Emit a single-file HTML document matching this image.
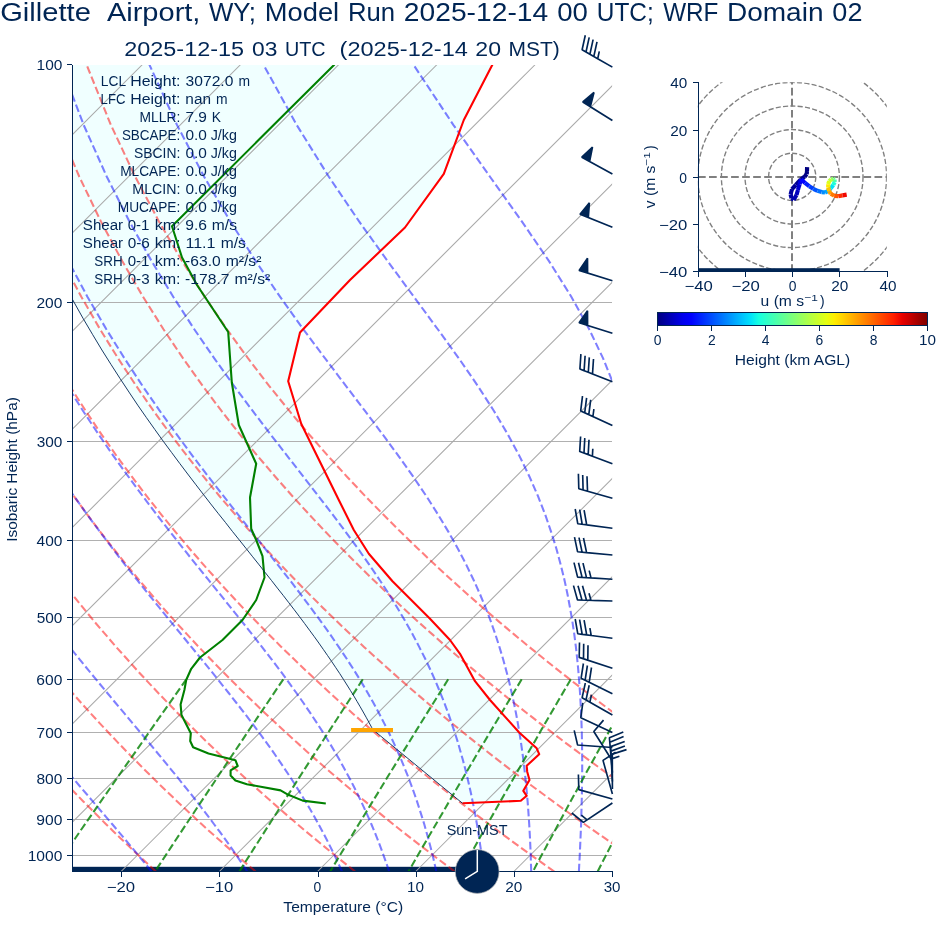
<!DOCTYPE html>
<html><head><meta charset="utf-8"><title>Skew-T</title><style>html,body{margin:0;padding:0;background:#fff}body{width:936px;height:936px;overflow:hidden}</style></head><body>
<svg width="936" height="936" viewBox="0 0 936 936" style="display:block;font-family:'Liberation Sans',sans-serif;will-change:transform">
<rect width="936" height="936" fill="#fff"/>
<defs><clipPath id="ax"><rect x="72.0" y="64.0" width="540.1" height="807.5"/></clipPath><clipPath id="hd"><rect x="697.8" y="82.3" width="189" height="189.2"/></clipPath></defs>
<g clip-path="url(#ax)">
<polygon points="462.5,803.3 372.9,729.7 371.6,727.3 368.9,722.3 366.1,717.2 363.2,712.0 360.2,706.8 357.1,701.5 353.9,696.1 350.5,690.6 347.0,685.0 343.4,679.3 339.7,673.5 335.8,667.7 331.8,661.7 327.6,655.6 323.3,649.4 318.9,643.1 314.3,636.7 309.5,630.2 304.6,623.5 299.5,616.7 294.2,609.7 288.8,602.7 283.2,595.4 277.4,588.1 271.5,580.5 265.4,572.8 259.2,564.9 252.7,556.8 246.1,548.5 239.4,540.1 232.4,531.4 225.4,522.4 218.1,513.3 210.7,503.9 203.2,494.2 195.5,484.2 187.7,474.0 179.7,463.4 171.6,452.5 163.3,441.3 154.9,429.6 146.4,417.6 137.7,405.1 129.0,392.1 120.1,378.6 111.1,364.6 101.9,350.0 92.7,334.7 83.3,318.8 73.9,302.0 64.3,284.4 54.6,265.8 44.9,246.2 35.1,225.4 25.2,203.2 15.3,179.5 5.4,154.1 -4.5,126.6 -14.3,96.7 -23.9,64.0 -228.0,59.0 497.5,59.0 492.5,64.5 463.8,120.0 443.8,173.8 405.0,227.5 350.0,280.0 300.0,332.5 288.2,381.2 301.2,423.8 338.8,500.0 353.8,530.0 368.8,553.8 392.5,581.2 430.0,618.8 450.0,640.0 460.0,653.8 467.5,667.5 475.0,681.2 490.0,700.0 519.2,732.5 536.7,748.3 539.2,754.2 526.7,765.8 527.2,771.7 529.5,780.0 523.3,790.8 526.7,795.8 520.8,800.8 462.5,803.3" fill="#f0ffff"/>
<rect x="72.0" y="866.8" width="405.0" height="6" fill="#002554"/>
<line x1="72.0" x2="612.1" y1="64.50" y2="64.50" stroke="#b0b0b0" stroke-width="1"/>
<line x1="72.0" x2="612.1" y1="302.50" y2="302.50" stroke="#b0b0b0" stroke-width="1"/>
<line x1="72.0" x2="612.1" y1="441.50" y2="441.50" stroke="#b0b0b0" stroke-width="1"/>
<line x1="72.0" x2="612.1" y1="540.50" y2="540.50" stroke="#b0b0b0" stroke-width="1"/>
<line x1="72.0" x2="612.1" y1="617.50" y2="617.50" stroke="#b0b0b0" stroke-width="1"/>
<line x1="72.0" x2="612.1" y1="679.50" y2="679.50" stroke="#b0b0b0" stroke-width="1"/>
<line x1="72.0" x2="612.1" y1="732.50" y2="732.50" stroke="#b0b0b0" stroke-width="1"/>
<line x1="72.0" x2="612.1" y1="778.50" y2="778.50" stroke="#b0b0b0" stroke-width="1"/>
<line x1="72.0" x2="612.1" y1="819.50" y2="819.50" stroke="#b0b0b0" stroke-width="1"/>
<line x1="72.0" x2="612.1" y1="855.50" y2="855.50" stroke="#b0b0b0" stroke-width="1"/>
<line x1="-860.9" y1="871.5" x2="-53.4" y2="64.0" stroke="#a8a8a8" stroke-width="1.05"/>
<line x1="-762.7" y1="871.5" x2="44.8" y2="64.0" stroke="#a8a8a8" stroke-width="1.05"/>
<line x1="-664.5" y1="871.5" x2="143.0" y2="64.0" stroke="#a8a8a8" stroke-width="1.05"/>
<line x1="-566.3" y1="871.5" x2="241.2" y2="64.0" stroke="#a8a8a8" stroke-width="1.05"/>
<line x1="-468.1" y1="871.5" x2="339.4" y2="64.0" stroke="#a8a8a8" stroke-width="1.05"/>
<line x1="-369.9" y1="871.5" x2="437.6" y2="64.0" stroke="#a8a8a8" stroke-width="1.05"/>
<line x1="-271.7" y1="871.5" x2="535.8" y2="64.0" stroke="#a8a8a8" stroke-width="1.05"/>
<line x1="-173.5" y1="871.5" x2="634.0" y2="64.0" stroke="#a8a8a8" stroke-width="1.05"/>
<line x1="-75.3" y1="871.5" x2="732.2" y2="64.0" stroke="#a8a8a8" stroke-width="1.05"/>
<line x1="22.9" y1="871.5" x2="830.4" y2="64.0" stroke="#a8a8a8" stroke-width="1.05"/>
<line x1="121.1" y1="871.5" x2="928.6" y2="64.0" stroke="#a8a8a8" stroke-width="1.05"/>
<line x1="219.3" y1="871.5" x2="1026.8" y2="64.0" stroke="#a8a8a8" stroke-width="1.05"/>
<line x1="317.5" y1="871.5" x2="1125.0" y2="64.0" stroke="#a8a8a8" stroke-width="1.05"/>
<line x1="415.7" y1="871.5" x2="1223.2" y2="64.0" stroke="#a8a8a8" stroke-width="1.05"/>
<line x1="513.9" y1="871.5" x2="1321.4" y2="64.0" stroke="#a8a8a8" stroke-width="1.05"/>
<line x1="612.1" y1="871.5" x2="1419.6" y2="64.0" stroke="#a8a8a8" stroke-width="1.05"/>
<line x1="710.3" y1="871.5" x2="1517.8" y2="64.0" stroke="#a8a8a8" stroke-width="1.05"/>
<polyline points="-43.2,871.5 -49.1,865.1 -55.1,858.6 -61.1,851.9 -67.2,845.1 -73.3,838.2 -79.4,831.2 -85.6,824.0 -91.9,816.6 -98.2,809.1 -104.6,801.4 -111.0,793.5 -117.5,785.5 -124.0,777.2 -130.6,768.8 -137.2,760.1 -143.9,751.2 -150.7,742.1 -157.5,732.7 -164.4,723.1 -171.3,713.2 -178.3,703.0 -185.4,692.5 -192.5,681.6 -199.7,670.4 -207.0,658.8 -214.3,646.9 -221.7,634.4 -229.1,621.6 -236.6,608.2 -244.2,594.2 -251.8,579.7 -259.4,564.6 -267.2,548.7 -274.9,532.1 -282.7,514.6 -290.5,496.2 -298.3,476.7 -306.2,456.1 -313.9,434.2 -321.7,410.7 -329.3,385.6 -336.7,358.4 -344.0,329.0 -350.9,296.7 -357.3,261.1 -363.0,221.4 -367.6,176.5 -370.7,124.8 -371.5,64.0" fill="none" stroke="#ff0000" stroke-opacity="0.5" stroke-width="2.08" stroke-dasharray="7.7 3.33"/>
<polyline points="56.4,871.5 50.0,865.1 43.4,858.6 36.9,851.9 30.3,845.1 23.6,838.2 16.9,831.2 10.1,824.0 3.2,816.6 -3.7,809.1 -10.7,801.4 -17.7,793.5 -24.8,785.5 -32.0,777.2 -39.2,768.8 -46.5,760.1 -53.8,751.2 -61.3,742.1 -68.8,732.7 -76.4,723.1 -84.0,713.2 -91.8,703.0 -99.6,692.5 -107.5,681.6 -115.5,670.4 -123.5,658.8 -131.7,646.9 -139.9,634.4 -148.2,621.6 -156.6,608.2 -165.1,594.2 -173.7,579.7 -182.3,564.6 -191.0,548.7 -199.8,532.1 -208.7,514.6 -217.6,496.2 -226.6,476.7 -235.7,456.1 -244.7,434.2 -253.8,410.7 -262.8,385.6 -271.8,358.4 -280.6,329.0 -289.1,296.7 -297.3,261.1 -305.0,221.4 -311.8,176.5 -317.2,124.8 -320.6,64.0" fill="none" stroke="#ff0000" stroke-opacity="0.5" stroke-width="2.08" stroke-dasharray="7.7 3.33"/>
<polyline points="156.0,871.5 149.0,865.1 142.0,858.6 134.9,851.9 127.7,845.1 120.5,838.2 113.2,831.2 105.8,824.0 98.4,816.6 90.9,809.1 83.3,801.4 75.6,793.5 67.9,785.5 60.1,777.2 52.2,768.8 44.3,760.1 36.3,751.2 28.1,742.1 19.9,732.7 11.6,723.1 3.2,713.2 -5.2,703.0 -13.8,692.5 -22.5,681.6 -31.2,670.4 -40.1,658.8 -49.1,646.9 -58.1,634.4 -67.3,621.6 -76.6,608.2 -86.0,594.2 -95.5,579.7 -105.2,564.6 -114.9,548.7 -124.7,532.1 -134.7,514.6 -144.8,496.2 -154.9,476.7 -165.2,456.1 -175.5,434.2 -185.9,410.7 -196.3,385.6 -206.8,358.4 -217.2,329.0 -227.4,296.7 -237.4,261.1 -247.0,221.4 -255.9,176.5 -263.7,124.8 -269.8,64.0" fill="none" stroke="#ff0000" stroke-opacity="0.5" stroke-width="2.08" stroke-dasharray="7.7 3.33"/>
<polyline points="255.6,871.5 248.1,865.1 240.5,858.6 232.8,851.9 225.1,845.1 217.3,838.2 209.4,831.2 201.5,824.0 193.5,816.6 185.4,809.1 177.2,801.4 169.0,793.5 160.6,785.5 152.2,777.2 143.7,768.8 135.1,760.1 126.3,751.2 117.5,742.1 108.6,732.7 99.6,723.1 90.5,713.2 81.3,703.0 72.0,692.5 62.6,681.6 53.0,670.4 43.3,658.8 33.5,646.9 23.6,634.4 13.6,621.6 3.4,608.2 -7.0,594.2 -17.4,579.7 -28.0,564.6 -38.8,548.7 -49.7,532.1 -60.7,514.6 -71.9,496.2 -83.2,476.7 -94.7,456.1 -106.3,434.2 -118.0,410.7 -129.9,385.6 -141.8,358.4 -153.7,329.0 -165.7,296.7 -177.5,261.1 -189.0,221.4 -200.1,176.5 -210.2,124.8 -218.9,64.0" fill="none" stroke="#ff0000" stroke-opacity="0.5" stroke-width="2.08" stroke-dasharray="7.7 3.33"/>
<polyline points="355.2,871.5 347.1,865.1 339.0,858.6 330.8,851.9 322.5,845.1 314.2,838.2 305.7,831.2 297.2,824.0 288.6,816.6 279.9,809.1 271.2,801.4 262.3,793.5 253.3,785.5 244.3,777.2 235.1,768.8 225.8,760.1 216.4,751.2 207.0,742.1 197.4,732.7 187.7,723.1 177.8,713.2 167.9,703.0 157.8,692.5 147.6,681.6 137.2,670.4 126.8,658.8 116.1,646.9 105.4,634.4 94.4,621.6 83.4,608.2 72.1,594.2 60.7,579.7 49.1,564.6 37.4,548.7 25.4,532.1 13.3,514.6 1.0,496.2 -11.5,476.7 -24.2,456.1 -37.1,434.2 -50.2,410.7 -63.4,385.6 -76.8,358.4 -90.3,329.0 -103.9,296.7 -117.5,261.1 -131.0,221.4 -144.2,176.5 -156.7,124.8 -168.0,64.0" fill="none" stroke="#ff0000" stroke-opacity="0.5" stroke-width="2.08" stroke-dasharray="7.7 3.33"/>
<polyline points="454.7,871.5 446.2,865.1 437.5,858.6 428.8,851.9 419.9,845.1 411.0,838.2 402.0,831.2 392.9,824.0 383.8,816.6 374.5,809.1 365.1,801.4 355.6,793.5 346.0,785.5 336.3,777.2 326.5,768.8 316.6,760.1 306.5,751.2 296.4,742.1 286.1,732.7 275.7,723.1 265.1,713.2 254.4,703.0 243.6,692.5 232.6,681.6 221.5,670.4 210.2,658.8 198.7,646.9 187.1,634.4 175.3,621.6 163.3,608.2 151.2,594.2 138.8,579.7 126.3,564.6 113.5,548.7 100.5,532.1 87.3,514.6 73.9,496.2 60.2,476.7 46.3,456.1 32.1,434.2 17.7,410.7 3.1,385.6 -11.8,358.4 -26.9,329.0 -42.2,296.7 -57.6,261.1 -73.0,221.4 -88.3,176.5 -103.2,124.8 -117.2,64.0" fill="none" stroke="#ff0000" stroke-opacity="0.5" stroke-width="2.08" stroke-dasharray="7.7 3.33"/>
<polyline points="554.3,871.5 545.2,865.1 536.0,858.6 526.7,851.9 517.4,845.1 507.9,838.2 498.3,831.2 488.7,824.0 478.9,816.6 469.0,809.1 459.0,801.4 448.9,793.5 438.7,785.5 428.4,777.2 417.9,768.8 407.4,760.1 396.6,751.2 385.8,742.1 374.8,732.7 363.7,723.1 352.4,713.2 341.0,703.0 329.4,692.5 317.6,681.6 305.7,670.4 293.6,658.8 281.3,646.9 268.9,634.4 256.2,621.6 243.3,608.2 230.2,594.2 216.9,579.7 203.4,564.6 189.6,548.7 175.6,532.1 161.3,514.6 146.7,496.2 131.9,476.7 116.7,456.1 101.3,434.2 85.6,410.7 69.5,385.6 53.2,358.4 36.5,329.0 19.5,296.7 2.3,261.1 -15.1,221.4 -32.5,176.5 -49.7,124.8 -66.3,64.0" fill="none" stroke="#ff0000" stroke-opacity="0.5" stroke-width="2.08" stroke-dasharray="7.7 3.33"/>
<polyline points="653.9,871.5 644.3,865.1 634.5,858.6 624.7,851.9 614.8,845.1 604.8,838.2 594.6,831.2 584.4,824.0 574.0,816.6 563.6,809.1 553.0,801.4 542.3,793.5 531.4,785.5 520.5,777.2 509.4,768.8 498.1,760.1 486.7,751.2 475.2,742.1 463.5,732.7 451.7,723.1 439.7,713.2 427.5,703.0 415.2,692.5 402.7,681.6 390.0,670.4 377.1,658.8 364.0,646.9 350.6,634.4 337.1,621.6 323.3,608.2 309.3,594.2 295.1,579.7 280.5,564.6 265.7,548.7 250.7,532.1 235.3,514.6 219.6,496.2 203.6,476.7 187.2,456.1 170.5,434.2 153.4,410.7 136.0,385.6 118.1,358.4 99.9,329.0 81.3,296.7 62.2,261.1 42.9,221.4 23.4,176.5 3.8,124.8 -15.4,64.0" fill="none" stroke="#ff0000" stroke-opacity="0.5" stroke-width="2.08" stroke-dasharray="7.7 3.33"/>
<polyline points="753.5,871.5 743.3,865.1 733.0,858.6 722.7,851.9 712.2,845.1 701.6,838.2 690.9,831.2 680.1,824.0 669.2,816.6 658.1,809.1 646.9,801.4 635.6,793.5 624.1,785.5 612.5,777.2 600.8,768.8 588.9,760.1 576.8,751.2 564.6,742.1 552.3,732.7 539.7,723.1 527.0,713.2 514.1,703.0 501.0,692.5 487.7,681.6 474.2,670.4 460.5,658.8 446.6,646.9 432.4,634.4 418.0,621.6 403.3,608.2 388.4,594.2 373.2,579.7 357.7,564.6 341.9,548.7 325.7,532.1 309.3,514.6 292.5,496.2 275.3,476.7 257.7,456.1 239.7,434.2 221.3,410.7 202.5,385.6 183.1,358.4 163.3,329.0 143.0,296.7 122.2,261.1 100.9,221.4 79.2,176.5 57.3,124.8 35.4,64.0" fill="none" stroke="#ff0000" stroke-opacity="0.5" stroke-width="2.08" stroke-dasharray="7.7 3.33"/>
<polyline points="853.0,871.5 842.4,865.1 831.6,858.6 820.6,851.9 809.6,845.1 798.5,838.2 787.2,831.2 775.8,824.0 764.3,816.6 752.6,809.1 740.8,801.4 728.9,793.5 716.8,785.5 704.6,777.2 692.2,768.8 679.7,760.1 666.9,751.2 654.0,742.1 641.0,732.7 627.7,723.1 614.3,713.2 600.6,703.0 586.8,692.5 572.7,681.6 558.4,670.4 543.9,658.8 529.2,646.9 514.1,634.4 498.9,621.6 483.3,608.2 467.4,594.2 451.3,579.7 434.8,564.6 418.0,548.7 400.8,532.1 383.3,514.6 365.3,496.2 347.0,476.7 328.2,456.1 308.9,434.2 289.2,410.7 268.9,385.6 248.1,358.4 226.7,329.0 204.7,296.7 182.1,261.1 158.9,221.4 135.1,176.5 110.8,124.8 86.3,64.0" fill="none" stroke="#ff0000" stroke-opacity="0.5" stroke-width="2.08" stroke-dasharray="7.7 3.33"/>
<polyline points="-44.0,871.5 -49.6,865.1 -55.2,858.6 -61.0,851.9 -66.7,845.1 -72.6,838.2 -78.5,831.2 -84.5,824.0 -90.6,816.6 -96.8,809.1 -103.0,801.4 -109.3,793.5 -115.6,785.5 -122.1,777.2 -128.6,768.8 -135.1,760.1 -141.8,751.2 -148.5,742.1 -155.3,732.7 -162.1,723.1 -169.0,713.2 -176.0,703.0 -183.1,692.5 -190.2,681.6 -197.4,670.4 -204.6,658.8 -211.9,646.9 -219.3,634.4 -226.8,621.6 -234.3,608.2 -241.9,594.2 -249.5,579.7 -257.2,564.6 -265.0,548.7 -272.7,532.1 -280.6,514.6 -288.4,496.2 -296.3,476.7 -304.1,456.1 -311.9,434.2 -319.7,410.7 -327.4,385.6 -334.9,358.4 -342.1,329.0 -349.1,296.7 -355.5,261.1 -361.3,221.4 -366.0,176.5 -369.2,124.8 -370.0,64.0" fill="none" stroke="#0000ff" stroke-opacity="0.5" stroke-width="2.08" stroke-dasharray="7.7 3.33"/>
<polyline points="54.3,871.5 48.7,865.1 43.0,858.6 37.2,851.9 31.3,845.1 25.3,838.2 19.1,831.2 12.9,824.0 6.5,816.6 0.1,809.1 -6.5,801.4 -13.2,793.5 -19.9,785.5 -26.8,777.2 -33.8,768.8 -40.9,760.1 -48.1,751.2 -55.4,742.1 -62.7,732.7 -70.2,723.1 -77.8,713.2 -85.5,703.0 -93.3,692.5 -101.1,681.6 -109.1,670.4 -117.2,658.8 -125.3,646.9 -133.6,634.4 -141.9,621.6 -150.4,608.2 -158.9,594.2 -167.5,579.7 -176.2,564.6 -185.0,548.7 -193.9,532.1 -202.9,514.6 -211.9,496.2 -221.0,476.7 -230.1,456.1 -239.3,434.2 -248.4,410.7 -257.6,385.6 -266.6,358.4 -275.6,329.0 -284.3,296.7 -292.6,261.1 -300.4,221.4 -307.4,176.5 -313.0,124.8 -316.6,64.0" fill="none" stroke="#0000ff" stroke-opacity="0.5" stroke-width="2.08" stroke-dasharray="7.7 3.33"/>
<polyline points="151.5,871.5 146.3,865.1 141.0,858.6 135.5,851.9 129.9,845.1 124.1,838.2 118.2,831.2 112.1,824.0 105.8,816.6 99.4,809.1 92.8,801.4 86.1,793.5 79.2,785.5 72.2,777.2 64.9,768.8 57.6,760.1 50.1,751.2 42.4,742.1 34.5,732.7 26.6,723.1 18.4,713.2 10.2,703.0 1.8,692.5 -6.8,681.6 -15.5,670.4 -24.3,658.8 -33.3,646.9 -42.4,634.4 -51.7,621.6 -61.1,608.2 -70.6,594.2 -80.2,579.7 -90.0,564.6 -99.9,548.7 -109.9,532.1 -120.1,514.6 -130.4,496.2 -140.7,476.7 -151.2,456.1 -161.8,434.2 -172.5,410.7 -183.2,385.6 -193.9,358.4 -204.6,329.0 -215.2,296.7 -225.5,261.1 -235.5,221.4 -244.8,176.5 -253.1,124.8 -259.7,64.0" fill="none" stroke="#0000ff" stroke-opacity="0.5" stroke-width="2.08" stroke-dasharray="7.7 3.33"/>
<polyline points="247.3,871.5 243.1,865.1 238.7,858.6 234.1,851.9 229.4,845.1 224.4,838.2 219.3,831.2 213.9,824.0 208.4,816.6 202.6,809.1 196.7,801.4 190.5,793.5 184.0,785.5 177.4,777.2 170.5,768.8 163.4,760.1 156.0,751.2 148.4,742.1 140.6,732.7 132.5,723.1 124.2,713.2 115.6,703.0 106.9,692.5 97.8,681.6 88.6,670.4 79.2,658.8 69.5,646.9 59.6,634.4 49.5,621.6 39.2,608.2 28.7,594.2 18.0,579.7 7.1,564.6 -4.0,548.7 -15.3,532.1 -26.7,514.6 -38.4,496.2 -50.2,476.7 -62.3,456.1 -74.4,434.2 -86.8,410.7 -99.2,385.6 -111.8,358.4 -124.5,329.0 -137.2,296.7 -149.8,261.1 -162.3,221.4 -174.3,176.5 -185.6,124.8 -195.4,64.0" fill="none" stroke="#0000ff" stroke-opacity="0.5" stroke-width="2.08" stroke-dasharray="7.7 3.33"/>
<polyline points="342.0,871.5 339.1,865.1 336.1,858.6 332.9,851.9 329.5,845.1 326.0,838.2 322.3,831.2 318.4,824.0 314.3,816.6 310.0,809.1 305.4,801.4 300.6,793.5 295.6,785.5 290.3,777.2 284.7,768.8 278.8,760.1 272.6,751.2 266.1,742.1 259.2,732.7 252.0,723.1 244.5,713.2 236.5,703.0 228.3,692.5 219.6,681.6 210.6,670.4 201.2,658.8 191.4,646.9 181.2,634.4 170.7,621.6 159.8,608.2 148.5,594.2 136.9,579.7 124.9,564.6 112.7,548.7 100.1,532.1 87.2,514.6 74.0,496.2 60.4,476.7 46.6,456.1 32.6,434.2 18.2,410.7 3.6,385.6 -11.3,358.4 -26.4,329.0 -41.7,296.7 -57.1,261.1 -72.6,221.4 -87.9,176.5 -102.8,124.8 -116.7,64.0" fill="none" stroke="#0000ff" stroke-opacity="0.5" stroke-width="2.08" stroke-dasharray="7.7 3.33"/>
<polyline points="389.2,871.5 387.0,865.1 384.7,858.6 382.3,851.9 379.8,845.1 377.1,838.2 374.3,831.2 371.3,824.0 368.1,816.6 364.7,809.1 361.1,801.4 357.3,793.5 353.3,785.5 349.0,777.2 344.4,768.8 339.6,760.1 334.5,751.2 329.0,742.1 323.2,732.7 317.0,723.1 310.4,713.2 303.5,703.0 296.1,692.5 288.2,681.6 280.0,670.4 271.2,658.8 261.9,646.9 252.2,634.4 242.0,621.6 231.2,608.2 220.0,594.2 208.3,579.7 196.1,564.6 183.4,548.7 170.3,532.1 156.7,514.6 142.8,496.2 128.4,476.7 113.6,456.1 98.4,434.2 82.9,410.7 67.0,385.6 50.7,358.4 34.1,329.0 17.2,296.7 0.1,261.1 -17.2,221.4 -34.5,176.5 -51.7,124.8 -68.2,64.0" fill="none" stroke="#0000ff" stroke-opacity="0.5" stroke-width="2.08" stroke-dasharray="7.7 3.33"/>
<polyline points="436.3,871.5 434.9,865.1 433.4,858.6 431.8,851.9 430.0,845.1 428.2,838.2 426.2,831.2 424.2,824.0 421.9,816.6 419.5,809.1 417.0,801.4 414.3,793.5 411.4,785.5 408.3,777.2 404.9,768.8 401.4,760.1 397.5,751.2 393.4,742.1 388.9,732.7 384.1,723.1 379.0,713.2 373.5,703.0 367.5,692.5 361.1,681.6 354.2,670.4 346.7,658.8 338.7,646.9 330.2,634.4 321.0,621.6 311.1,608.2 300.6,594.2 289.5,579.7 277.6,564.6 265.1,548.7 251.9,532.1 238.1,514.6 223.6,496.2 208.4,476.7 192.7,456.1 176.5,434.2 159.6,410.7 142.3,385.6 124.5,358.4 106.2,329.0 87.4,296.7 68.3,261.1 48.8,221.4 29.0,176.5 9.2,124.8 -10.3,64.0" fill="none" stroke="#0000ff" stroke-opacity="0.5" stroke-width="2.08" stroke-dasharray="7.7 3.33"/>
<polyline points="483.7,871.5 482.9,865.1 482.1,858.6 481.2,851.9 480.2,845.1 479.2,838.2 478.1,831.2 476.9,824.0 475.6,816.6 474.1,809.1 472.6,801.4 471.0,793.5 469.2,785.5 467.3,777.2 465.2,768.8 462.9,760.1 460.4,751.2 457.8,742.1 454.8,732.7 451.6,723.1 448.2,713.2 444.4,703.0 440.2,692.5 435.7,681.6 430.7,670.4 425.2,658.8 419.2,646.9 412.7,634.4 405.5,621.6 397.6,608.2 389.0,594.2 379.5,579.7 369.2,564.6 358.0,548.7 345.8,532.1 332.7,514.6 318.5,496.2 303.4,476.7 287.4,456.1 270.4,434.2 252.5,410.7 233.8,385.6 214.3,358.4 194.1,329.0 173.2,296.7 151.6,261.1 129.4,221.4 106.7,176.5 83.6,124.8 60.5,64.0" fill="none" stroke="#0000ff" stroke-opacity="0.5" stroke-width="2.08" stroke-dasharray="7.7 3.33"/>
<polyline points="531.2,871.5 531.0,865.1 530.8,858.6 530.6,851.9 530.3,845.1 530.0,838.2 529.6,831.2 529.2,824.0 528.7,816.6 528.2,809.1 527.6,801.4 526.9,793.5 526.2,785.5 525.3,777.2 524.4,768.8 523.4,760.1 522.2,751.2 520.9,742.1 519.4,732.7 517.8,723.1 516.0,713.2 513.9,703.0 511.6,692.5 509.1,681.6 506.2,670.4 503.0,658.8 499.4,646.9 495.4,634.4 490.9,621.6 485.8,608.2 480.0,594.2 473.5,579.7 466.2,564.6 457.9,548.7 448.6,532.1 438.1,514.6 426.4,496.2 413.2,476.7 398.6,456.1 382.5,434.2 364.8,410.7 345.7,385.6 325.1,358.4 303.1,329.0 280.0,296.7 255.7,261.1 230.3,221.4 204.0,176.5 176.9,124.8 149.1,64.0" fill="none" stroke="#0000ff" stroke-opacity="0.5" stroke-width="2.08" stroke-dasharray="7.7 3.33"/>
<polyline points="578.9,871.5 579.2,865.1 579.6,858.6 579.9,851.9 580.2,845.1 580.5,838.2 580.8,831.2 581.1,824.0 581.3,816.6 581.5,809.1 581.7,801.4 581.9,793.5 582.0,785.5 582.1,777.2 582.2,768.8 582.2,760.1 582.1,751.2 582.0,742.1 581.8,732.7 581.5,723.1 581.1,713.2 580.6,703.0 580.0,692.5 579.2,681.6 578.3,670.4 577.2,658.8 575.9,646.9 574.3,634.4 572.4,621.6 570.1,608.2 567.5,594.2 564.4,579.7 560.7,564.6 556.4,548.7 551.2,532.1 545.2,514.6 538.0,496.2 529.5,476.7 519.5,456.1 507.7,434.2 493.8,410.7 477.6,385.6 458.9,358.4 437.6,329.0 413.8,296.7 387.6,261.1 359.1,221.4 328.7,176.5 296.6,124.8 263.1,64.0" fill="none" stroke="#0000ff" stroke-opacity="0.5" stroke-width="2.08" stroke-dasharray="7.7 3.33"/>
<polyline points="626.8,871.5 627.6,865.1 628.4,858.6 629.2,851.9 630.0,845.1 630.8,838.2 631.6,831.2 632.5,824.0 633.3,816.6 634.1,809.1 635.0,801.4 635.8,793.5 636.7,785.5 637.5,777.2 638.4,768.8 639.2,760.1 640.0,751.2 640.8,742.1 641.7,732.7 642.4,723.1 643.2,713.2 644.0,703.0 644.7,692.5 645.3,681.6 645.9,670.4 646.5,658.8 647.0,646.9 647.3,634.4 647.6,621.6 647.7,608.2 647.7,594.2 647.4,579.7 646.9,564.6 646.1,548.7 645.0,532.1 643.3,514.6 641.1,496.2 638.1,476.7 634.2,456.1 629.1,434.2 622.6,410.7 614.1,385.6 603.1,358.4 589.1,329.0 571.3,296.7 549.0,261.1 521.8,221.4 489.8,176.5 453.3,124.8 413.0,64.0" fill="none" stroke="#0000ff" stroke-opacity="0.5" stroke-width="2.08" stroke-dasharray="7.7 3.33"/>
<polyline points="675.0,871.5 676.1,865.1 677.3,858.6 678.5,851.9 679.7,845.1 680.9,838.2 682.1,831.2 683.4,824.0 684.7,816.6 686.0,809.1 687.4,801.4 688.8,793.5 690.2,785.5 691.6,777.2 693.1,768.8 694.5,760.1 696.1,751.2 697.6,742.1 699.2,732.7 700.8,723.1 702.4,713.2 704.1,703.0 705.8,692.5 707.5,681.6 709.3,670.4 711.1,658.8 712.9,646.9 714.7,634.4 716.5,621.6 718.4,608.2 720.2,594.2 722.0,579.7 723.8,564.6 725.6,548.7 727.3,532.1 728.9,514.6 730.4,496.2 731.6,476.7 732.6,456.1 733.2,434.2 733.2,410.7 732.5,385.6 730.8,358.4 727.5,329.0 722.1,296.7 713.4,261.1 700.1,221.4 680.0,176.5 650.7,124.8 610.6,64.0" fill="none" stroke="#0000ff" stroke-opacity="0.5" stroke-width="2.08" stroke-dasharray="7.7 3.33"/>
<polyline points="723.4,871.5 724.8,865.1 726.2,858.6 727.7,851.9 729.2,845.1 730.7,838.2 732.3,831.2 733.9,824.0 735.6,816.6 737.3,809.1 739.0,801.4 740.8,793.5 742.6,785.5 744.5,777.2 746.4,768.8 748.4,760.1 750.4,751.2 752.5,742.1 754.7,732.7 756.9,723.1 759.2,713.2 761.5,703.0 763.9,692.5 766.4,681.6 769.0,670.4 771.6,658.8 774.4,646.9 777.2,634.4 780.1,621.6 783.2,608.2 786.3,594.2 789.5,579.7 792.9,564.6 796.3,548.7 799.9,532.1 803.6,514.6 807.5,496.2 811.4,476.7 815.5,456.1 819.7,434.2 824.0,410.7 828.3,385.6 832.6,358.4 836.7,329.0 840.5,296.7 843.7,261.1 845.6,221.4 845.3,176.5 840.7,124.8 827.7,64.0" fill="none" stroke="#0000ff" stroke-opacity="0.5" stroke-width="2.08" stroke-dasharray="7.7 3.33"/>
<polyline points="771.9,871.5 773.5,865.1 775.2,858.6 776.9,851.9 778.6,845.1 780.4,838.2 782.2,831.2 784.1,824.0 786.0,816.6 788.0,809.1 790.0,801.4 792.1,793.5 794.2,785.5 796.5,777.2 798.7,768.8 801.1,760.1 803.5,751.2 805.9,742.1 808.5,732.7 811.1,723.1 813.9,713.2 816.7,703.0 819.6,692.5 822.6,681.6 825.8,670.4 829.0,658.8 832.4,646.9 835.9,634.4 839.6,621.6 843.4,608.2 847.4,594.2 851.6,579.7 855.9,564.6 860.5,548.7 865.3,532.1 870.3,514.6 875.7,496.2 881.3,476.7 887.2,456.1 893.5,434.2 900.3,410.7 907.4,385.6 915.1,358.4 923.3,329.0 932.1,296.7 941.5,261.1 951.6,221.4 962.4,176.5 973.6,124.8 984.5,64.0" fill="none" stroke="#0000ff" stroke-opacity="0.5" stroke-width="2.08" stroke-dasharray="7.7 3.33"/>
<polyline points="820.6,871.5 822.4,865.1 824.2,858.6 826.0,851.9 828.0,845.1 829.9,838.2 831.9,831.2 834.0,824.0 836.1,816.6 838.3,809.1 840.5,801.4 842.8,793.5 845.2,785.5 847.6,777.2 850.1,768.8 852.7,760.1 855.4,751.2 858.1,742.1 861.0,732.7 863.9,723.1 866.9,713.2 870.1,703.0 873.4,692.5 876.7,681.6 880.3,670.4 883.9,658.8 887.8,646.9 891.7,634.4 895.9,621.6 900.2,608.2 904.8,594.2 909.5,579.7 914.5,564.6 919.8,548.7 925.4,532.1 931.3,514.6 937.5,496.2 944.1,476.7 951.2,456.1 958.8,434.2 966.9,410.7 975.7,385.6 985.3,358.4 995.7,329.0 1007.1,296.7 1019.7,261.1 1033.8,221.4 1049.8,176.5 1068.0,124.8 1089.2,64.0" fill="none" stroke="#0000ff" stroke-opacity="0.5" stroke-width="2.08" stroke-dasharray="7.7 3.33"/>
<polyline points="186.3,679.3 177.0,692.6 168.0,705.4 159.3,717.7 150.9,729.6 142.9,741.2 135.1,752.3 127.5,763.1 120.2,773.5 113.2,783.7 106.3,793.6 99.6,803.1 93.2,812.5 86.9,821.5 80.7,830.4 74.8,839.0 69.0,847.4 63.3,855.6 57.8,863.6 52.4,871.5" fill="none" stroke="#008000" stroke-opacity="0.8" stroke-width="2.08" stroke-dasharray="7.7 3.33"/>
<polyline points="283.3,679.3 274.3,692.6 265.7,705.4 257.4,717.7 249.3,729.6 241.6,741.2 234.1,752.3 226.9,763.1 219.9,773.5 213.2,783.7 206.6,793.6 200.2,803.1 194.0,812.5 188.0,821.5 182.1,830.4 176.4,839.0 170.9,847.4 165.5,855.6 160.2,863.6 155.0,871.5" fill="none" stroke="#008000" stroke-opacity="0.8" stroke-width="2.08" stroke-dasharray="7.7 3.33"/>
<polyline points="362.8,679.3 354.2,692.6 345.8,705.4 337.8,717.7 330.1,729.6 322.6,741.2 315.5,752.3 308.5,763.1 301.8,773.5 295.3,783.7 288.9,793.6 282.8,803.1 276.9,812.5 271.1,821.5 265.4,830.4 260.0,839.0 254.6,847.4 249.4,855.6 244.3,863.6 239.4,871.5" fill="none" stroke="#008000" stroke-opacity="0.8" stroke-width="2.08" stroke-dasharray="7.7 3.33"/>
<polyline points="448.2,679.3 439.9,692.6 431.9,705.4 424.2,717.7 416.8,729.6 409.7,741.2 402.8,752.3 396.2,763.1 389.7,773.5 383.5,783.7 377.5,793.6 371.6,803.1 365.9,812.5 360.4,821.5 355.0,830.4 349.8,839.0 344.7,847.4 339.7,855.6 334.9,863.6 330.2,871.5" fill="none" stroke="#008000" stroke-opacity="0.8" stroke-width="2.08" stroke-dasharray="7.7 3.33"/>
<polyline points="521.7,679.3 513.7,692.6 506.1,705.4 498.7,717.7 491.6,729.6 484.7,741.2 478.1,752.3 471.8,763.1 465.6,773.5 459.6,783.7 453.8,793.6 448.2,803.1 442.8,812.5 437.5,821.5 432.3,830.4 427.3,839.0 422.4,847.4 417.7,855.6 413.1,863.6 408.5,871.5" fill="none" stroke="#008000" stroke-opacity="0.8" stroke-width="2.08" stroke-dasharray="7.7 3.33"/>
<polyline points="570.8,679.3 563.0,692.6 555.6,705.4 548.4,717.7 541.5,729.6 534.9,741.2 528.4,752.3 522.2,763.1 516.3,773.5 510.5,783.7 504.8,793.6 499.4,803.1 494.1,812.5 489.0,821.5 484.0,830.4 479.1,839.0 474.4,847.4 469.8,855.6 465.3,863.6 460.9,871.5" fill="none" stroke="#008000" stroke-opacity="0.8" stroke-width="2.08" stroke-dasharray="7.7 3.33"/>
<polyline points="638.2,679.3 630.7,692.6 623.5,705.4 616.7,717.7 610.0,729.6 603.7,741.2 597.5,752.3 591.6,763.1 585.8,773.5 580.3,783.7 574.9,793.6 569.7,803.1 564.6,812.5 559.7,821.5 555.0,830.4 550.3,839.0 545.8,847.4 541.4,855.6 537.1,863.6 533.0,871.5" fill="none" stroke="#008000" stroke-opacity="0.8" stroke-width="2.08" stroke-dasharray="7.7 3.33"/>
<polyline points="698.6,679.3 691.4,692.6 684.6,705.4 677.9,717.7 671.6,729.6 665.5,741.2 659.6,752.3 653.9,763.1 648.4,773.5 643.0,783.7 637.9,793.6 632.9,803.1 628.0,812.5 623.3,821.5 618.8,830.4 614.3,839.0 610.0,847.4 605.8,855.6 601.7,863.6 597.7,871.5" fill="none" stroke="#008000" stroke-opacity="0.8" stroke-width="2.08" stroke-dasharray="7.7 3.33"/>
<polyline points="742.8,679.3 735.8,692.6 729.1,705.4 722.7,717.7 716.5,729.6 710.6,741.2 704.9,752.3 699.3,763.1 694.0,773.5 688.9,783.7 683.9,793.6 679.0,803.1 674.4,812.5 669.8,821.5 665.4,830.4 661.1,839.0 656.9,847.4 652.9,855.6 648.9,863.6 645.1,871.5" fill="none" stroke="#008000" stroke-opacity="0.8" stroke-width="2.08" stroke-dasharray="7.7 3.33"/>
<polyline points="492.5,64.5 463.8,120.0 443.8,173.8 405.0,227.5 350.0,280.0 300.0,332.5 288.2,381.2 301.2,423.8 338.8,500.0 353.8,530.0 368.8,553.8 392.5,581.2 430.0,618.8 450.0,640.0 460.0,653.8 467.5,667.5 475.0,681.2 490.0,700.0 519.2,732.5 536.7,748.3 539.2,754.2 526.7,765.8 527.2,771.7 529.5,780.0 523.3,790.8 526.7,795.8 520.8,800.8 462.5,803.3" fill="none" stroke="#ff0000" stroke-width="2.1" stroke-linejoin="round"/>
<polyline points="334.5,64.5 172.0,226.2 182.0,257.5 197.0,285.0 228.2,332.0 231.8,382.5 238.8,425.0 256.2,463.8 250.0,497.5 251.2,528.8 256.2,540.0 262.5,556.2 264.5,577.5 256.2,600.0 242.5,620.0 222.5,640.0 200.0,657.5 191.2,668.8 186.2,680.0 184.4,690.0 180.6,704.4 181.5,715.0 190.8,733.3 190.2,741.0 193.1,747.3 208.5,753.5 235.4,760.2 237.7,766.0 230.6,770.4 230.6,775.6 235.4,780.4 246.9,784.2 280.6,790.4 288.3,794.8 302.7,800.6 325.8,803.5" fill="none" stroke="#008000" stroke-width="2.1" stroke-linejoin="round"/>
<polyline points="462.5,803.3 372.9,729.7 371.6,727.3 368.9,722.3 366.1,717.2 363.2,712.0 360.2,706.8 357.1,701.5 353.9,696.1 350.5,690.6 347.0,685.0 343.4,679.3 339.7,673.5 335.8,667.7 331.8,661.7 327.6,655.6 323.3,649.4 318.9,643.1 314.3,636.7 309.5,630.2 304.6,623.5 299.5,616.7 294.2,609.7 288.8,602.7 283.2,595.4 277.4,588.1 271.5,580.5 265.4,572.8 259.2,564.9 252.7,556.8 246.1,548.5 239.4,540.1 232.4,531.4 225.4,522.4 218.1,513.3 210.7,503.9 203.2,494.2 195.5,484.2 187.7,474.0 179.7,463.4 171.6,452.5 163.3,441.3 154.9,429.6 146.4,417.6 137.7,405.1 129.0,392.1 120.1,378.6 111.1,364.6 101.9,350.0 92.7,334.7 83.3,318.8 73.9,302.0 64.3,284.4 54.6,265.8 44.9,246.2 35.1,225.4 25.2,203.2 15.3,179.5 5.4,154.1 -4.5,126.6 -14.3,96.7 -23.9,64.0" fill="none" stroke="#002554" stroke-width="0.9"/>
<line x1="351.1" x2="393" y1="730.05" y2="730.05" stroke="#ffa500" stroke-width="4.1"/>
</g>
<line x1="72.5" x2="72.5" y1="64.0" y2="872" stroke="#002554" stroke-width="1"/>
<line x1="72" x2="613" y1="871.5" y2="871.5" stroke="#002554" stroke-width="1"/>
<line x1="72.0" x2="612.1" y1="64.5" y2="64.5" stroke="#fff" stroke-width="1"/>
<text x="0.24" y="20.60" font-size="25.00" fill="#002554" textLength="90.60" lengthAdjust="spacingAndGlyphs">Gillette</text>
<text x="106.90" y="20.60" font-size="25.00" fill="#002554" textLength="93.55" lengthAdjust="spacingAndGlyphs">Airport,</text>
<text x="208.95" y="20.60" font-size="25.00" fill="#002554" textLength="47.10" lengthAdjust="spacingAndGlyphs">WY;</text>
<text x="264.81" y="20.60" font-size="25.00" fill="#002554" textLength="74.33" lengthAdjust="spacingAndGlyphs">Model</text>
<text x="347.95" y="20.60" font-size="25.00" fill="#002554" textLength="47.14" lengthAdjust="spacingAndGlyphs">Run</text>
<text x="403.89" y="20.60" font-size="25.00" fill="#002554" textLength="144.30" lengthAdjust="spacingAndGlyphs">2025-12-14</text>
<text x="557.29" y="20.60" font-size="25.00" fill="#002554" textLength="30.66" lengthAdjust="spacingAndGlyphs">00</text>
<text x="596.76" y="20.60" font-size="25.00" fill="#002554" textLength="56.97" lengthAdjust="spacingAndGlyphs">UTC;</text>
<text x="663.13" y="20.60" font-size="25.00" fill="#002554" textLength="55.26" lengthAdjust="spacingAndGlyphs">WRF</text>
<text x="726.97" y="20.60" font-size="25.00" fill="#002554" textLength="96.55" lengthAdjust="spacingAndGlyphs">Domain</text>
<text x="832.37" y="20.60" font-size="25.00" fill="#002554" textLength="30.07" lengthAdjust="spacingAndGlyphs">02</text>
<text x="124.22" y="55.60" font-size="20.83" fill="#002554" textLength="119.86" lengthAdjust="spacingAndGlyphs">2025-12-15</text>
<text x="252.03" y="55.60" font-size="20.83" fill="#002554" textLength="25.35" lengthAdjust="spacingAndGlyphs">03</text>
<text x="284.96" y="55.60" font-size="20.83" fill="#002554" textLength="40.63" lengthAdjust="spacingAndGlyphs">UTC</text>
<text x="339.54" y="55.60" font-size="20.83" fill="#002554" textLength="128.36" lengthAdjust="spacingAndGlyphs">(2025-12-14</text>
<text x="475.38" y="55.60" font-size="20.83" fill="#002554" textLength="25.66" lengthAdjust="spacingAndGlyphs">20</text>
<text x="508.46" y="55.60" font-size="20.83" fill="#002554" textLength="51.23" lengthAdjust="spacingAndGlyphs">MST)</text>
<line x1="67" x2="72" y1="64.50" y2="64.50" stroke="#002554" stroke-width="1"/>
<text x="36.56" y="69.70" font-size="13.89" fill="#002554" textLength="25.82" lengthAdjust="spacingAndGlyphs">100</text>
<line x1="67" x2="72" y1="302.50" y2="302.50" stroke="#002554" stroke-width="1"/>
<text x="36.45" y="307.70" font-size="13.89" fill="#002554" textLength="25.94" lengthAdjust="spacingAndGlyphs">200</text>
<line x1="67" x2="72" y1="441.50" y2="441.50" stroke="#002554" stroke-width="1"/>
<text x="36.68" y="446.70" font-size="13.89" fill="#002554" textLength="25.69" lengthAdjust="spacingAndGlyphs">300</text>
<line x1="67" x2="72" y1="540.50" y2="540.50" stroke="#002554" stroke-width="1"/>
<text x="36.54" y="545.70" font-size="13.89" fill="#002554" textLength="25.85" lengthAdjust="spacingAndGlyphs">400</text>
<line x1="67" x2="72" y1="617.50" y2="617.50" stroke="#002554" stroke-width="1"/>
<text x="36.67" y="622.70" font-size="13.89" fill="#002554" textLength="25.71" lengthAdjust="spacingAndGlyphs">500</text>
<line x1="67" x2="72" y1="679.50" y2="679.50" stroke="#002554" stroke-width="1"/>
<text x="36.39" y="684.70" font-size="13.89" fill="#002554" textLength="25.99" lengthAdjust="spacingAndGlyphs">600</text>
<line x1="67" x2="72" y1="732.50" y2="732.50" stroke="#002554" stroke-width="1"/>
<text x="36.56" y="737.70" font-size="13.89" fill="#002554" textLength="25.82" lengthAdjust="spacingAndGlyphs">700</text>
<line x1="67" x2="72" y1="778.50" y2="778.50" stroke="#002554" stroke-width="1"/>
<text x="36.48" y="783.70" font-size="13.89" fill="#002554" textLength="25.90" lengthAdjust="spacingAndGlyphs">800</text>
<line x1="67" x2="72" y1="819.50" y2="819.50" stroke="#002554" stroke-width="1"/>
<text x="36.35" y="824.70" font-size="13.89" fill="#002554" textLength="26.03" lengthAdjust="spacingAndGlyphs">900</text>
<line x1="67" x2="72" y1="855.50" y2="855.50" stroke="#002554" stroke-width="1"/>
<text x="27.71" y="860.70" font-size="13.89" fill="#002554" textLength="34.66" lengthAdjust="spacingAndGlyphs">1000</text>
<line x1="121.50" x2="121.50" y1="872" y2="877" stroke="#002554" stroke-width="1"/>
<text x="106.81" y="891.70" font-size="13.89" fill="#002554" textLength="28.37" lengthAdjust="spacingAndGlyphs">−20</text>
<line x1="219.50" x2="219.50" y1="872" y2="877" stroke="#002554" stroke-width="1"/>
<text x="205.01" y="891.70" font-size="13.89" fill="#002554" textLength="28.37" lengthAdjust="spacingAndGlyphs">−10</text>
<line x1="318.50" x2="318.50" y1="872" y2="877" stroke="#002554" stroke-width="1"/>
<text x="313.46" y="891.70" font-size="13.89" fill="#002554" textLength="7.72" lengthAdjust="spacingAndGlyphs">0</text>
<line x1="416.50" x2="416.50" y1="872" y2="877" stroke="#002554" stroke-width="1"/>
<text x="406.92" y="891.70" font-size="13.89" fill="#002554" textLength="16.97" lengthAdjust="spacingAndGlyphs">10</text>
<line x1="514.50" x2="514.50" y1="872" y2="877" stroke="#002554" stroke-width="1"/>
<text x="505.26" y="891.70" font-size="13.89" fill="#002554" textLength="17.09" lengthAdjust="spacingAndGlyphs">20</text>
<line x1="612.50" x2="612.50" y1="872" y2="877" stroke="#002554" stroke-width="1"/>
<text x="603.68" y="891.70" font-size="13.89" fill="#002554" textLength="16.85" lengthAdjust="spacingAndGlyphs">30</text>
<text x="283.34" y="911.90" font-size="13.89" fill="#002554" textLength="119.92" lengthAdjust="spacingAndGlyphs">Temperature (°C)</text>
<text transform="translate(17.30 469.20) rotate(-90)" x="-72.65" y="0.00" font-size="13.89" fill="#002554" textLength="144.68" lengthAdjust="spacingAndGlyphs">Isobaric Height (hPa)</text>
<text x="100.77" y="85.70" font-size="13.89" fill="#002554" textLength="25.30" lengthAdjust="spacingAndGlyphs">LCL</text>
<text x="130.19" y="85.70" font-size="13.89" fill="#002554" textLength="50.31" lengthAdjust="spacingAndGlyphs">Height:</text>
<text x="185.60" y="85.70" font-size="13.89" fill="#002554" textLength="47.78" lengthAdjust="spacingAndGlyphs">3072.0</text>
<text x="238.49" y="85.70" font-size="13.89" fill="#002554" textLength="11.56" lengthAdjust="spacingAndGlyphs">m</text>
<text x="100.57" y="103.75" font-size="13.89" fill="#002554" textLength="24.87" lengthAdjust="spacingAndGlyphs">LFC</text>
<text x="130.19" y="103.75" font-size="13.89" fill="#002554" textLength="50.31" lengthAdjust="spacingAndGlyphs">Height:</text>
<text x="185.37" y="103.75" font-size="13.89" fill="#002554" textLength="25.67" lengthAdjust="spacingAndGlyphs">nan</text>
<text x="216.01" y="103.75" font-size="13.89" fill="#002554" textLength="11.56" lengthAdjust="spacingAndGlyphs">m</text>
<text x="139.59" y="121.80" font-size="13.89" fill="#002554" textLength="40.73" lengthAdjust="spacingAndGlyphs">MLLR:</text>
<text x="185.48" y="121.80" font-size="13.89" fill="#002554" textLength="21.48" lengthAdjust="spacingAndGlyphs">7.9</text>
<text x="211.86" y="121.80" font-size="13.89" fill="#002554" textLength="9.25" lengthAdjust="spacingAndGlyphs">K</text>
<text x="121.89" y="139.85" font-size="13.89" fill="#002554" textLength="58.38" lengthAdjust="spacingAndGlyphs">SBCAPE:</text>
<text x="185.45" y="139.85" font-size="13.89" fill="#002554" textLength="21.44" lengthAdjust="spacingAndGlyphs">0.0</text>
<text x="210.70" y="139.85" font-size="13.89" fill="#002554" textLength="26.21" lengthAdjust="spacingAndGlyphs">J/kg</text>
<text x="134.04" y="157.90" font-size="13.89" fill="#002554" textLength="46.28" lengthAdjust="spacingAndGlyphs">SBCIN:</text>
<text x="185.45" y="157.90" font-size="13.89" fill="#002554" textLength="21.44" lengthAdjust="spacingAndGlyphs">0.0</text>
<text x="210.70" y="157.90" font-size="13.89" fill="#002554" textLength="26.21" lengthAdjust="spacingAndGlyphs">J/kg</text>
<text x="120.21" y="175.95" font-size="13.89" fill="#002554" textLength="60.08" lengthAdjust="spacingAndGlyphs">MLCAPE:</text>
<text x="185.45" y="175.95" font-size="13.89" fill="#002554" textLength="21.44" lengthAdjust="spacingAndGlyphs">0.0</text>
<text x="210.70" y="175.95" font-size="13.89" fill="#002554" textLength="26.21" lengthAdjust="spacingAndGlyphs">J/kg</text>
<text x="132.34" y="194.00" font-size="13.89" fill="#002554" textLength="48.01" lengthAdjust="spacingAndGlyphs">MLCIN:</text>
<text x="185.45" y="194.00" font-size="13.89" fill="#002554" textLength="21.44" lengthAdjust="spacingAndGlyphs">0.0</text>
<text x="210.70" y="194.00" font-size="13.89" fill="#002554" textLength="26.21" lengthAdjust="spacingAndGlyphs">J/kg</text>
<text x="117.78" y="212.05" font-size="13.89" fill="#002554" textLength="62.51" lengthAdjust="spacingAndGlyphs">MUCAPE:</text>
<text x="185.45" y="212.05" font-size="13.89" fill="#002554" textLength="21.44" lengthAdjust="spacingAndGlyphs">0.0</text>
<text x="210.70" y="212.05" font-size="13.89" fill="#002554" textLength="26.21" lengthAdjust="spacingAndGlyphs">J/kg</text>
<text x="82.80" y="230.10" font-size="13.89" fill="#002554" textLength="40.37" lengthAdjust="spacingAndGlyphs">Shear</text>
<text x="127.70" y="230.10" font-size="13.89" fill="#002554" textLength="21.79" lengthAdjust="spacingAndGlyphs">0-1</text>
<text x="154.65" y="230.10" font-size="13.89" fill="#002554" textLength="25.90" lengthAdjust="spacingAndGlyphs">km:</text>
<text x="185.28" y="230.10" font-size="13.89" fill="#002554" textLength="21.74" lengthAdjust="spacingAndGlyphs">9.6</text>
<text x="211.87" y="230.10" font-size="13.89" fill="#002554" textLength="25.08" lengthAdjust="spacingAndGlyphs">m/s</text>
<text x="82.80" y="248.15" font-size="13.89" fill="#002554" textLength="40.37" lengthAdjust="spacingAndGlyphs">Shear</text>
<text x="127.69" y="248.15" font-size="13.89" fill="#002554" textLength="22.15" lengthAdjust="spacingAndGlyphs">0-6</text>
<text x="154.65" y="248.15" font-size="13.89" fill="#002554" textLength="25.90" lengthAdjust="spacingAndGlyphs">km:</text>
<text x="185.44" y="248.15" font-size="13.89" fill="#002554" textLength="30.09" lengthAdjust="spacingAndGlyphs">11.1</text>
<text x="220.70" y="248.15" font-size="13.89" fill="#002554" textLength="25.08" lengthAdjust="spacingAndGlyphs">m/s</text>
<text x="94.35" y="266.20" font-size="13.89" fill="#002554" textLength="28.31" lengthAdjust="spacingAndGlyphs">SRH</text>
<text x="127.70" y="266.20" font-size="13.89" fill="#002554" textLength="21.79" lengthAdjust="spacingAndGlyphs">0-1</text>
<text x="154.65" y="266.20" font-size="13.89" fill="#002554" textLength="25.90" lengthAdjust="spacingAndGlyphs">km:</text>
<text x="185.12" y="266.20" font-size="13.89" fill="#002554" textLength="35.60" lengthAdjust="spacingAndGlyphs">-63.0</text>
<text x="225.70" y="266.20" font-size="13.89" fill="#002554" textLength="35.75" lengthAdjust="spacingAndGlyphs">m²/s²</text>
<text x="94.35" y="284.25" font-size="13.89" fill="#002554" textLength="28.31" lengthAdjust="spacingAndGlyphs">SRH</text>
<text x="127.69" y="284.25" font-size="13.89" fill="#002554" textLength="21.89" lengthAdjust="spacingAndGlyphs">0-3</text>
<text x="154.65" y="284.25" font-size="13.89" fill="#002554" textLength="25.90" lengthAdjust="spacingAndGlyphs">km:</text>
<text x="185.12" y="284.25" font-size="13.89" fill="#002554" textLength="44.34" lengthAdjust="spacingAndGlyphs">-178.7</text>
<text x="234.54" y="284.25" font-size="13.89" fill="#002554" textLength="35.75" lengthAdjust="spacingAndGlyphs">m²/s²</text>
<text x="446.72" y="834.60" font-size="13.89" fill="#002554" textLength="60.76" lengthAdjust="spacingAndGlyphs">Sun-MST</text>
<g fill="#002554" stroke="#002554" stroke-width="1.65" stroke-linejoin="bevel" stroke-linecap="butt">
<polygon points="612.4,67.1 582.1,49.8 585.3,35.2 582.1,49.8 586.0,52.0 589.2,37.4 586.0,52.0 589.9,54.3 593.1,39.6 589.9,54.3 593.8,56.5 597.0,41.9 593.8,56.5 597.7,58.7 599.3,51.4 597.7,58.7"/>
<polygon points="612.4,120.5 582.8,102.0 594.0,92.5 590.3,106.7"/>
<polygon points="612.4,174.0 581.8,157.2 592.5,147.1 589.6,161.5"/>
<polygon points="612.4,227.3 580.0,214.2 589.4,202.9 588.3,217.6"/>
<polygon points="612.4,280.8 579.1,270.4 587.5,258.3 587.6,273.0"/>
<polygon points="612.4,333.3 579.1,322.8 587.5,310.8 587.6,325.5"/>
<polygon points="612.4,381.7 579.9,369.0 580.9,354.1 579.9,369.0 584.1,370.7 585.1,355.7 584.1,370.7 588.3,372.3 589.3,357.4 588.3,372.3 592.5,373.9 593.5,359.0 592.5,373.9"/>
<polygon points="612.4,425.4 580.7,410.9 582.5,396.1 580.7,410.9 584.7,412.8 586.6,397.9 584.7,412.8 588.8,414.6 590.7,399.8 588.8,414.6 592.9,416.5 593.9,409.1 592.9,416.5"/>
<polygon points="612.4,463.8 579.7,451.5 580.6,436.5 579.7,451.5 584.0,453.0 584.8,438.1 584.0,453.0 588.2,454.6 589.0,439.7 588.2,454.6 592.4,456.2 592.8,448.7 592.4,456.2"/>
<polygon points="612.4,498.2 578.8,488.8 578.4,473.8 578.8,488.8 583.1,490.0 582.7,475.0 583.1,490.0 587.5,491.2 587.0,476.2 587.5,491.2"/>
<polygon points="612.4,528.2 577.8,523.8 575.2,509.0 577.8,523.8 582.2,524.3 579.7,509.6 582.2,524.3 586.7,524.9 584.1,510.2 586.7,524.9"/>
<polygon points="612.4,555.0 577.6,551.8 574.5,537.2 577.6,551.8 582.1,552.2 579.0,537.6 582.1,552.2 586.6,552.6 583.5,538.0 586.6,552.6"/>
<polygon points="612.4,579.2 577.6,577.1 574.0,562.6 577.6,577.1 582.1,577.4 578.5,562.8 582.1,577.4 586.5,577.6 583.0,563.1 586.5,577.6 591.0,577.9 589.2,570.6 591.0,577.9"/>
<polygon points="612.4,601.0 577.5,600.0 573.5,585.6 577.5,600.0 582.0,600.1 578.0,585.7 582.0,600.1 586.5,600.3 582.5,585.8 586.5,600.3 591.0,600.4 589.0,593.2 591.0,600.4"/>
<polygon points="612.4,638.2 577.8,633.8 575.2,619.0 577.8,633.8 582.2,634.4 579.6,619.6 582.2,634.4 586.7,634.9 584.1,620.2 586.7,634.9 591.2,635.5 589.9,628.1 591.2,635.5"/>
<polygon points="612.4,668.3 579.2,657.4 579.5,642.4 579.2,657.4 583.5,658.8 583.7,643.8 583.5,658.8 587.8,660.2 588.0,645.2 587.8,660.2"/>
<polygon points="612.4,693.8 581.1,678.3 583.4,663.5 581.1,678.3 585.1,680.3 587.4,665.5 585.1,680.3 589.2,682.3 591.5,667.5 589.2,682.3"/>
<polygon points="612.4,715.0 582.1,697.7 585.3,683.1 582.1,697.7 586.0,699.9 589.2,685.3 586.0,699.9 589.9,702.1 591.5,694.8 589.9,702.1"/>
<polygon points="612.4,732.5 580.8,717.7 582.8,702.9 580.8,717.7"/>
<polygon points="612.4,747.5 577.6,745.0 574.2,730.4 577.6,745.0"/>
<polygon points="612.4,761.0 593.8,731.5 603.5,720.1 593.8,731.5"/>
<polygon points="612.4,772.5 609.4,737.7 623.3,732.1 609.4,737.7 609.8,742.2 623.6,736.5 609.8,742.2"/>
<polygon points="612.4,781.5 610.6,746.6 624.7,741.5 610.6,746.6 610.9,751.1 624.9,746.0 610.9,751.1"/>
<polygon points="612.4,789.0 612.3,754.1 626.5,749.6 612.3,754.1 612.3,758.6 619.4,756.3 612.3,758.6"/>
<polygon points="612.4,794.0 603.0,760.4 615.6,752.3 603.0,760.4"/>
<polygon points="612.4,799.0 578.8,789.6 578.4,774.6 578.8,789.6"/>
<polygon points="612.4,803.0 583.4,822.4 571.8,813.0 583.4,822.4 587.1,819.9 581.3,815.2 587.1,819.9"/>
</g>
<circle cx="477.2" cy="871.5" r="21.9" fill="#002554" stroke="#bbbbbb" stroke-width="0.7"/>
<polyline points="477.3,850.0 477.3,871.3 465.1,878.9" fill="none" stroke="#fff" stroke-width="1.5"/>
<g clip-path="url(#hd)" fill="none">
<circle cx="792.2" cy="176.8" r="23.60" stroke="#808080" stroke-width="1.39" stroke-dasharray="5.14 2.22"/>
<circle cx="792.2" cy="176.8" r="47.20" stroke="#808080" stroke-width="1.39" stroke-dasharray="5.14 2.22"/>
<circle cx="792.2" cy="176.8" r="70.80" stroke="#808080" stroke-width="1.39" stroke-dasharray="5.14 2.22"/>
<circle cx="792.2" cy="176.8" r="94.40" stroke="#808080" stroke-width="1.39" stroke-dasharray="5.14 2.22"/>
<circle cx="792.2" cy="176.8" r="118.00" stroke="#808080" stroke-width="1.39" stroke-dasharray="5.14 2.22"/>
<line x1="698" x2="888" y1="177" y2="177" stroke="#808080" stroke-width="2" stroke-dasharray="7.7 3.33"/>
<line x1="792" x2="792" y1="272" y2="82" stroke="#808080" stroke-width="2" stroke-dasharray="7.7 3.33"/>
<line x1="807.1" y1="167.1" x2="807.0" y2="171.0" stroke="#000080" stroke-width="4.17"/>
<line x1="807.0" y1="171.0" x2="806.7" y2="174.2" stroke="#000080" stroke-width="4.17"/>
<line x1="806.7" y1="174.2" x2="804.5" y2="176.8" stroke="#000084" stroke-width="4.17"/>
<line x1="804.5" y1="176.8" x2="800.8" y2="179.5" stroke="#00008d" stroke-width="4.17"/>
<line x1="800.8" y1="179.5" x2="795.8" y2="185.0" stroke="#000092" stroke-width="4.17"/>
<line x1="795.8" y1="185.0" x2="792.0" y2="189.2" stroke="#000096" stroke-width="4.17"/>
<line x1="792.0" y1="189.2" x2="790.6" y2="194.2" stroke="#00009f" stroke-width="4.17"/>
<line x1="790.6" y1="194.2" x2="791.5" y2="198.3" stroke="#0000a4" stroke-width="4.17"/>
<line x1="791.5" y1="198.3" x2="793.6" y2="199.8" stroke="#0000a8" stroke-width="4.17"/>
<line x1="793.6" y1="199.8" x2="796.5" y2="195.0" stroke="#0000b2" stroke-width="4.17"/>
<line x1="796.5" y1="195.0" x2="797.9" y2="190.0" stroke="#0000bf" stroke-width="4.17"/>
<line x1="797.9" y1="190.0" x2="799.6" y2="184.2" stroke="#0000d1" stroke-width="4.17"/>
<line x1="799.6" y1="184.2" x2="801.2" y2="179.3" stroke="#0000e8" stroke-width="4.17"/>
<line x1="801.2" y1="179.3" x2="805.0" y2="182.9" stroke="#0000ff" stroke-width="4.17"/>
<line x1="805.0" y1="182.9" x2="809.2" y2="186.2" stroke="#001dff" stroke-width="4.17"/>
<line x1="809.2" y1="186.2" x2="813.3" y2="188.8" stroke="#003dff" stroke-width="4.17"/>
<line x1="813.3" y1="188.8" x2="817.5" y2="190.8" stroke="#0054ff" stroke-width="4.17"/>
<line x1="817.5" y1="190.8" x2="821.7" y2="192.1" stroke="#0071ff" stroke-width="4.17"/>
<line x1="821.7" y1="192.1" x2="825.0" y2="192.5" stroke="#008dff" stroke-width="4.17"/>
<line x1="825.0" y1="192.5" x2="827.9" y2="191.2" stroke="#00a5ff" stroke-width="4.17"/>
<line x1="827.9" y1="191.2" x2="830.8" y2="188.3" stroke="#00c1ff" stroke-width="4.17"/>
<line x1="830.8" y1="188.3" x2="833.3" y2="185.0" stroke="#00e5f8" stroke-width="4.17"/>
<line x1="833.3" y1="185.0" x2="834.6" y2="182.1" stroke="#1fffd7" stroke-width="4.17"/>
<line x1="834.6" y1="182.1" x2="834.6" y2="179.6" stroke="#46ffb1" stroke-width="4.17"/>
<line x1="834.6" y1="179.6" x2="833.3" y2="178.8" stroke="#6aff8d" stroke-width="4.17"/>
<line x1="833.3" y1="178.8" x2="831.2" y2="179.2" stroke="#90ff66" stroke-width="4.17"/>
<line x1="831.2" y1="179.2" x2="829.2" y2="181.2" stroke="#baff3c" stroke-width="4.17"/>
<line x1="829.2" y1="181.2" x2="828.2" y2="184.2" stroke="#deff19" stroke-width="4.17"/>
<line x1="828.2" y1="184.2" x2="828.2" y2="187.5" stroke="#feed00" stroke-width="4.17"/>
<line x1="828.2" y1="187.5" x2="829.2" y2="191.2" stroke="#ffc400" stroke-width="4.17"/>
<line x1="829.2" y1="191.2" x2="830.8" y2="193.8" stroke="#ff9f00" stroke-width="4.17"/>
<line x1="830.8" y1="193.8" x2="834.2" y2="195.8" stroke="#ff7a00" stroke-width="4.17"/>
<line x1="834.2" y1="195.8" x2="838.3" y2="196.2" stroke="#ff5500" stroke-width="4.17"/>
<line x1="838.3" y1="196.2" x2="842.5" y2="195.4" stroke="#ff2d00" stroke-width="4.17"/>
<line x1="842.5" y1="195.4" x2="846.7" y2="194.6" stroke="#f10800" stroke-width="4.17"/>
<rect x="698" y="268.2" width="141.6" height="3.8" fill="#002554"/>
</g>
<line x1="698.5" x2="698.5" y1="82" y2="272" stroke="#002554" stroke-width="1"/>
<line x1="698" x2="888" y1="271.5" y2="271.5" stroke="#002554" stroke-width="1"/>
<line x1="698.5" x2="698.5" y1="272" y2="277" stroke="#002554" stroke-width="1"/>
<line x1="693.0" x2="698" y1="271.5" y2="271.5" stroke="#002554" stroke-width="1"/>
<text x="684.51" y="291.40" font-size="13.89" fill="#002554" textLength="28.37" lengthAdjust="spacingAndGlyphs">−40</text>
<text x="659.06" y="276.80" font-size="13.89" fill="#002554" textLength="28.37" lengthAdjust="spacingAndGlyphs">−40</text>
<line x1="745.5" x2="745.5" y1="272" y2="277" stroke="#002554" stroke-width="1"/>
<line x1="693.0" x2="698" y1="224.5" y2="224.5" stroke="#002554" stroke-width="1"/>
<text x="731.51" y="291.40" font-size="13.89" fill="#002554" textLength="28.37" lengthAdjust="spacingAndGlyphs">−20</text>
<text x="659.06" y="229.80" font-size="13.89" fill="#002554" textLength="28.37" lengthAdjust="spacingAndGlyphs">−20</text>
<line x1="792.5" x2="792.5" y1="272" y2="277" stroke="#002554" stroke-width="1"/>
<line x1="693.0" x2="698" y1="177.5" y2="177.5" stroke="#002554" stroke-width="1"/>
<text x="788.76" y="291.40" font-size="13.89" fill="#002554" textLength="7.72" lengthAdjust="spacingAndGlyphs">0</text>
<text x="679.26" y="182.80" font-size="13.89" fill="#002554" textLength="7.72" lengthAdjust="spacingAndGlyphs">0</text>
<line x1="839.5" x2="839.5" y1="272" y2="277" stroke="#002554" stroke-width="1"/>
<line x1="693.0" x2="698" y1="130.5" y2="130.5" stroke="#002554" stroke-width="1"/>
<text x="831.16" y="291.40" font-size="13.89" fill="#002554" textLength="17.09" lengthAdjust="spacingAndGlyphs">20</text>
<text x="670.29" y="135.80" font-size="13.89" fill="#002554" textLength="17.09" lengthAdjust="spacingAndGlyphs">20</text>
<line x1="887.5" x2="887.5" y1="272" y2="277" stroke="#002554" stroke-width="1"/>
<line x1="693.0" x2="698" y1="82.5" y2="82.5" stroke="#002554" stroke-width="1"/>
<text x="879.41" y="291.40" font-size="13.89" fill="#002554" textLength="17.00" lengthAdjust="spacingAndGlyphs">40</text>
<text x="670.38" y="87.80" font-size="13.89" fill="#002554" textLength="17.00" lengthAdjust="spacingAndGlyphs">40</text>
<text x="760.58" y="306.20" font-size="13.89" fill="#002554" textLength="43.50" lengthAdjust="spacingAndGlyphs">u (m s</text>
<text x="804.41" y="301.30" font-size="9.72" fill="#002554" textLength="13.57" lengthAdjust="spacingAndGlyphs">−1</text>
<text x="819.91" y="306.20" font-size="13.89" fill="#002554" textLength="4.62" lengthAdjust="spacingAndGlyphs">)</text>
<text transform="translate(655.00 208.20) rotate(-90)" x="-0.05" y="0.00" font-size="13.89" fill="#002554" textLength="42.72" lengthAdjust="spacingAndGlyphs">v (m s</text>
<text transform="translate(655.00 208.20) rotate(-90)" x="42.41" y="-4.90" font-size="9.72" fill="#002554" textLength="13.57" lengthAdjust="spacingAndGlyphs">−1</text>
<text transform="translate(655.00 208.20) rotate(-90)" x="58.21" y="0.00" font-size="13.89" fill="#002554" textLength="4.62" lengthAdjust="spacingAndGlyphs">)</text>
<defs><linearGradient id="jet" x1="0" x2="1" y1="0" y2="0"><stop offset="0.000" stop-color="#000080"/><stop offset="0.031" stop-color="#0000a4"/><stop offset="0.062" stop-color="#0000c8"/><stop offset="0.094" stop-color="#0000ed"/><stop offset="0.125" stop-color="#0001ff"/><stop offset="0.156" stop-color="#0021ff"/><stop offset="0.188" stop-color="#0041ff"/><stop offset="0.219" stop-color="#0061ff"/><stop offset="0.250" stop-color="#0081ff"/><stop offset="0.281" stop-color="#00a1ff"/><stop offset="0.312" stop-color="#00c1ff"/><stop offset="0.344" stop-color="#00e1fb"/><stop offset="0.375" stop-color="#16ffe1"/><stop offset="0.406" stop-color="#30ffc7"/><stop offset="0.438" stop-color="#49ffad"/><stop offset="0.469" stop-color="#63ff94"/><stop offset="0.500" stop-color="#7dff7a"/><stop offset="0.531" stop-color="#97ff60"/><stop offset="0.562" stop-color="#b1ff46"/><stop offset="0.594" stop-color="#caff2c"/><stop offset="0.625" stop-color="#e4ff13"/><stop offset="0.656" stop-color="#feed00"/><stop offset="0.688" stop-color="#ffd000"/><stop offset="0.719" stop-color="#ffb200"/><stop offset="0.750" stop-color="#ff9400"/><stop offset="0.781" stop-color="#ff7700"/><stop offset="0.812" stop-color="#ff5900"/><stop offset="0.844" stop-color="#ff3b00"/><stop offset="0.875" stop-color="#ff1e00"/><stop offset="0.906" stop-color="#e80000"/><stop offset="0.938" stop-color="#c40000"/><stop offset="0.969" stop-color="#9f0000"/><stop offset="1.000" stop-color="#800000"/></linearGradient></defs>
<rect x="657.5" y="312.5" width="270" height="13" fill="url(#jet)" stroke="#002554" stroke-width="1"/>
<line x1="657.5" x2="657.5" y1="326" y2="331" stroke="#002554" stroke-width="1"/>
<text x="653.76" y="344.80" font-size="13.89" fill="#002554" textLength="7.72" lengthAdjust="spacingAndGlyphs">0</text>
<line x1="711.5" x2="711.5" y1="326" y2="331" stroke="#002554" stroke-width="1"/>
<text x="707.89" y="344.80" font-size="13.89" fill="#002554" textLength="7.72" lengthAdjust="spacingAndGlyphs">2</text>
<line x1="765.5" x2="765.5" y1="326" y2="331" stroke="#002554" stroke-width="1"/>
<text x="761.79" y="344.80" font-size="13.89" fill="#002554" textLength="7.72" lengthAdjust="spacingAndGlyphs">4</text>
<line x1="819.5" x2="819.5" y1="326" y2="331" stroke="#002554" stroke-width="1"/>
<text x="815.60" y="344.80" font-size="13.89" fill="#002554" textLength="7.72" lengthAdjust="spacingAndGlyphs">6</text>
<line x1="873.5" x2="873.5" y1="326" y2="331" stroke="#002554" stroke-width="1"/>
<text x="869.72" y="344.80" font-size="13.89" fill="#002554" textLength="7.72" lengthAdjust="spacingAndGlyphs">8</text>
<line x1="927.5" x2="927.5" y1="326" y2="331" stroke="#002554" stroke-width="1"/>
<text x="919.02" y="344.80" font-size="13.89" fill="#002554" textLength="16.97" lengthAdjust="spacingAndGlyphs">10</text>
<text x="734.85" y="365.40" font-size="13.89" fill="#002554" textLength="115.33" lengthAdjust="spacingAndGlyphs">Height (km AGL)</text>
</svg>
</body></html>
